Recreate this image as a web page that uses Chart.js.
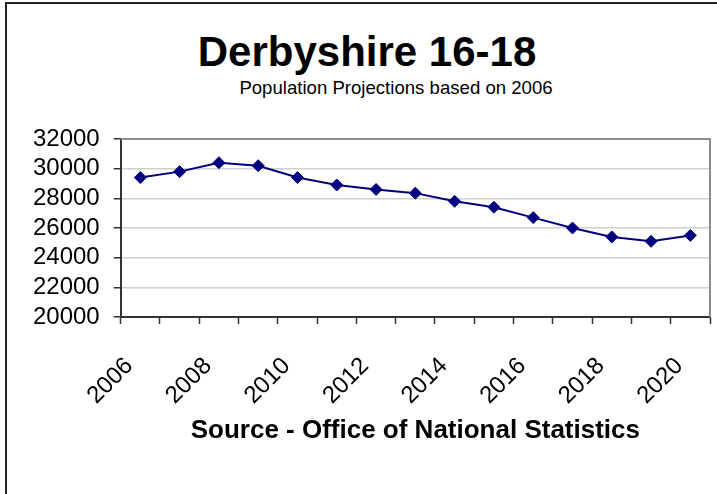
<!DOCTYPE html>
<html>
<head>
<meta charset="utf-8">
<script src="https://cdn.jsdelivr.net/npm/chart.js@4"></script>
<style>
  body { margin: 0; background: #fff; font-family: "Liberation Sans", Arial, sans-serif; }
  #wrap { position: relative; width: 717px; height: 494px; overflow: hidden; }
  #frame { position: absolute; left: 5px; top: 2px; width: 760px; height: 540px;
           border-left: 2px solid #222; border-top: 2px solid #222; }
  #title { position: absolute; left: 0; width: 734px; top: 31px; text-align: center;
           font-weight: bold; font-size: 42px; line-height: 42px; color: #000; }
  #subtitle { position: absolute; left: 0; width: 792px; top: 79px; text-align: center;
              font-size: 18.6px; line-height: 18px; color: #000; }
  canvas { position: absolute; left: 0; top: 0; }
</style>
</head>
<body>
<div id="wrap">
  <div id="frame"></div>
  <div id="title">Derbyshire 16-18</div>
  <div id="subtitle">Population Projections based on 2006</div>
  <canvas id="lineChart" width="717" height="494"></canvas>
</div>
<script>
// DATA
const years = ["2006","2007","2008","2009","2010","2011","2012","2013",
               "2014","2015","2016","2017","2018","2019","2020"];
const population = [29400, 29800, 30400, 30200, 29400, 28900, 28600, 28350,
                    27800, 27400, 26700, 26000, 25400, 25100, 25500];
const yMin = 20000, yMax = 32000, yStep = 2000;

const FONT = '"Liberation Sans", Arial, sans-serif';

// grey box on top + right of plot area (excel style)
const plotFrame = {
    id: "plotFrame",
    beforeDatasetsDraw(chart) {
        const {ctx, chartArea: a} = chart;
        ctx.save();
        ctx.strokeStyle = "#8c8c8c";
        ctx.lineWidth = 2;
        ctx.beginPath();
        ctx.moveTo(a.left, a.top);
        ctx.lineTo(a.right, a.top);
        ctx.lineTo(a.right, a.bottom);
        ctx.stroke();
        ctx.restore();
    }
};

new Chart(document.getElementById("lineChart"), {
    type: "line",
    data: {
        labels: years,
        datasets: [{
            data: population,
            borderColor: "#000080",
            borderWidth: 2,
            backgroundColor: "#000080",
            pointStyle: "rectRot",
            pointRadius: 6,
            pointBorderWidth: 1,
            pointBackgroundColor: "#000080",
            pointBorderColor: "#000080",
            tension: 0
        }]
    },
    options: {
        responsive: false,
        animation: false,
        layout: { padding: { top: 139, right: 5, left: 0, bottom: 0 } },
        plugins: {
            legend: { display: false },
            tooltip: { enabled: false }
        },
        scales: {
            x: {
                offset: true,
                afterFit: s => { s.height = 177; s.paddingLeft = 0; s.paddingRight = 0; },
                border: { color: "#333", width: 2 },
                grid: { offset: true, drawOnChartArea: false, drawTicks: true,
                        tickLength: 7, tickColor: "#333", tickWidth: 1.5 },
                ticks: {
                    autoSkip: false, minRotation: 45, maxRotation: 45,
                    color: "#000", padding: 28, labelOffset: -11,
                    font: { family: FONT, size: 24 },
                    callback: function(v, i) { return i % 2 === 0 ? this.getLabelForValue(v) : ""; }
                },
                title: {
                    display: true,
                    text: "Source - Office of National Statistics",
                    color: "#000",
                    font: { family: FONT, size: 26, weight: "bold" },
                    padding: { top: 0, bottom: 48 }
                }
            },
            y: {
                min: yMin, max: yMax,
                afterFit: s => { s.width = 120.7; },
                border: { color: "#333", width: 2 },
                grid: { color: "#d0d0d0", lineWidth: 1.5, tickLength: 7,
                        tickColor: "#333", tickWidth: 1.5 },
                ticks: {
                    stepSize: yStep, autoSkip: false, color: "#000", padding: 14,
                    font: { family: FONT, size: 24 },
                    callback: v => String(v)
                }
            }
        }
    },
    plugins: [plotFrame]
});
</script>
</body>
</html>
